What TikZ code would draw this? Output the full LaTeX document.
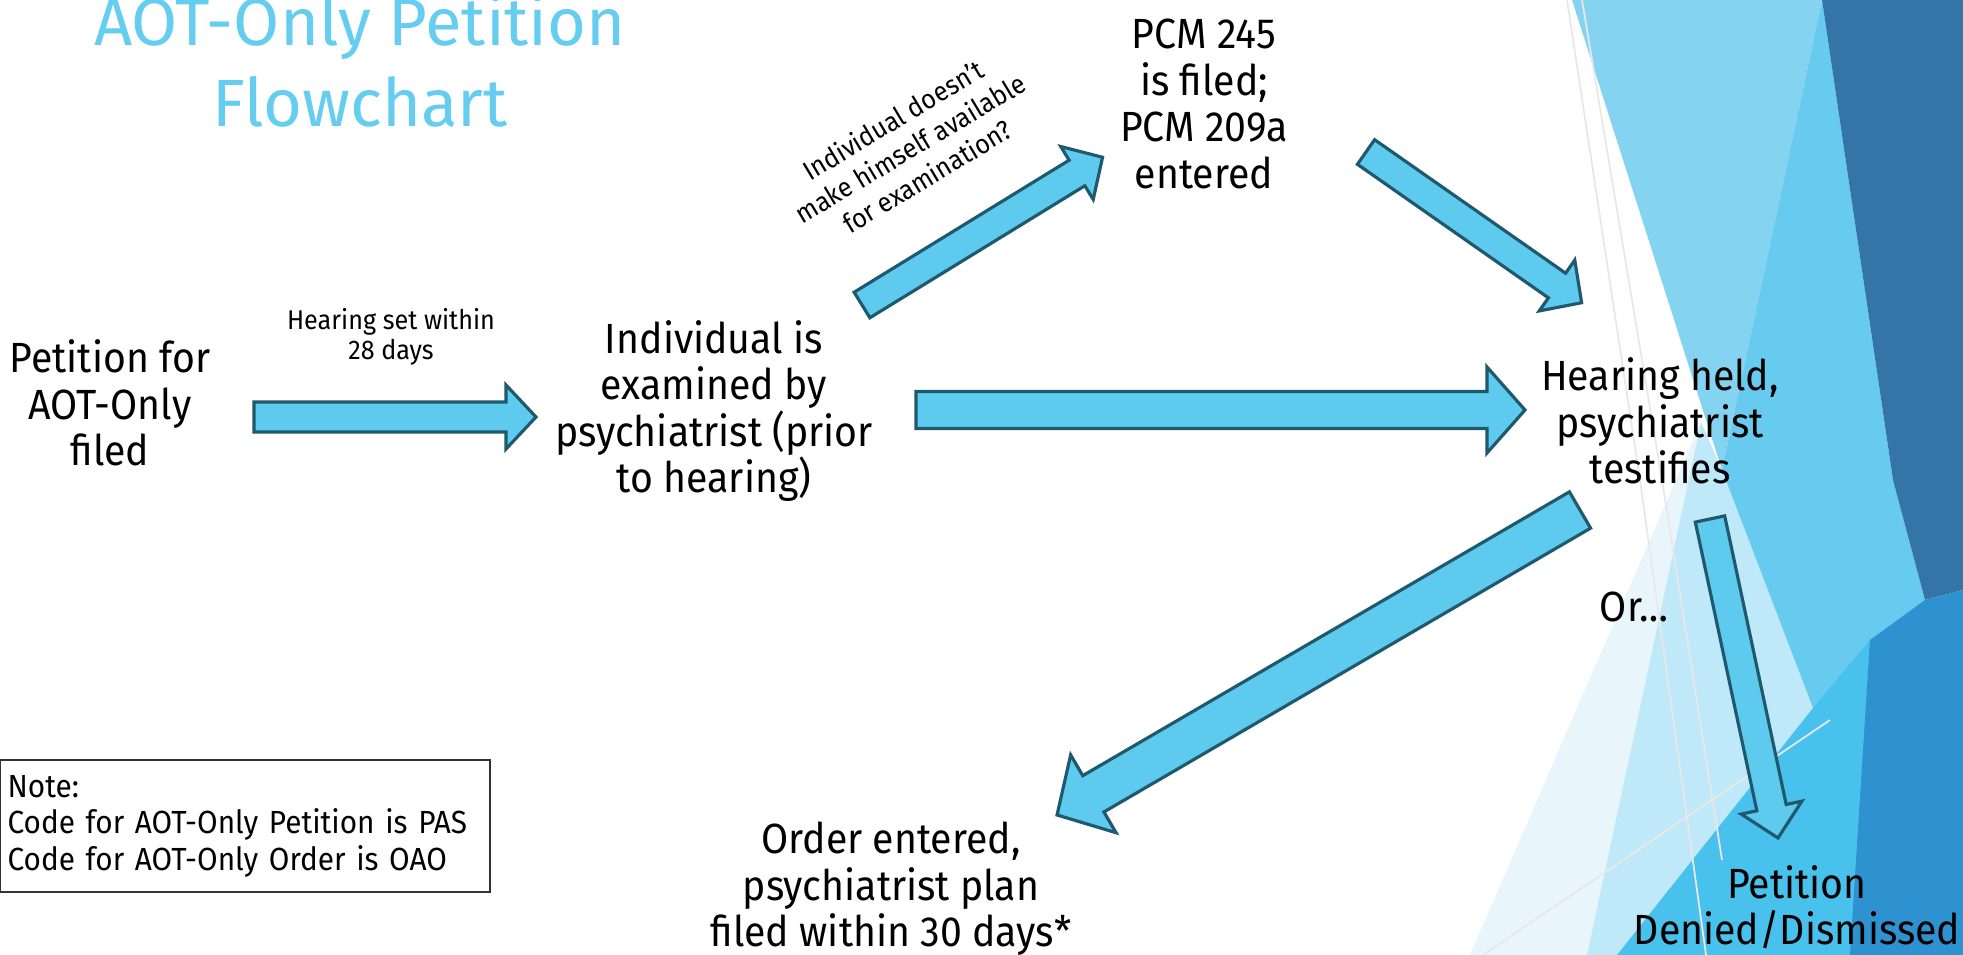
\documentclass[tikz,border=0pt]{standalone}
\usepackage{fontspec}
\setmainfont{Fira Sans}[FakeStretch=0.93]
\newfontfamily\titlefont{Fira Sans}

\definecolor{arrowfill}{RGB}{94,203,238}
\definecolor{arrowline}{RGB}{31,89,110}
\definecolor{titleblue}{RGB}{100,205,240}
\definecolor{facetfaint}{RGB}{232,246,252}
\definecolor{facetpale}{RGB}{191,233,248}
\definecolor{facetlight}{RGB}{132,211,240}
\definecolor{facetmid}{RGB}{102,203,238}
\definecolor{facetcyan}{RGB}{72,193,236}
\definecolor{facetdark}{RGB}{53,116,166}
\definecolor{facetblue}{RGB}{47,146,208}

\tikzset{%
	blockarrow/.style={fill=arrowfill, draw=arrowline, line width=0.9pt, line join=miter},
	stepnode/.style={align=center, inner sep=0pt, font=\fontsize{12}{13.2}\selectfont},
	sidenote/.style={align=center, inner sep=0pt, font=\fontsize{7.7}{8.4}\selectfont},
	notebox/.style={draw=black!80, line width=0.5pt, align=left, anchor=north west,
		text width=135pt, inner xsep=2.2pt, inner ysep=3.5pt, minimum height=37.6pt,
		font=\fontsize{9.1}{10.4}\selectfont},
	facetline/.style={draw=white!82!gray, line width=0.5pt},
}

\begin{document}
\begin{tikzpicture}[x=0.01cm,y=-0.01cm]

% one px of the slide
\def\px{0.28453pt}

%\blockarrow{tail}{tip}{shaft}{head}{headlen}, sizes in px
\newcommand*{\blockarrow}[5]{%
	\pgfpointdiff{\pgfpointanchor{#1}{center}}{\pgfpointanchor{#2}{center}}%
	\pgfgetlastxy{\bax}{\bay}%
	\pgfmathsetmacro{\balen}{veclen(\bax,\bay)}%
	\pgfmathsetmacro{\baang}{atan2(\bay,\bax)}%
	\draw [blockarrow, shift={(#1)}, rotate=\baang]
		(0pt,{#3*\px}) -- ({\balen pt-#5*\px},{#3*\px}) -- ({\balen pt-#5*\px},{#4*\px})
		-- (\balen pt,0pt) -- ({\balen pt-#5*\px},{-#4*\px}) -- ({\balen pt-#5*\px},{-#3*\px})
		-- (0pt,{-#3*\px}) -- cycle;
}

\useasboundingbox (0,0) rectangle (1963,955);
\fill [white] (0,0) rectangle (1963,955);

% facet background on the right
\fill [facetfaint] (1701,422) -- (1587,955) -- (1470,955) -- cycle;
\fill [facetpale] (1701,422) -- (1722,470) -- (1813,708) -- (1617,955) -- (1587,955) -- cycle;
\fill [facetlight] (1572,0) -- (1822,0) -- (1722,470) -- cycle;
\fill [facetmid] (1822,0) -- (1893,480) -- (1925,600) -- (1813,708) -- (1722,470) -- cycle;
\fill [facetcyan] (1617,955) -- (1813,708) -- (1870,640) -- (1963,590) -- (1963,955) -- cycle;
\fill [facetdark] (1822,0) -- (1963,0) -- (1963,590) -- (1925,600) -- (1893,480) -- cycle;
\fill [facetblue] (1870,640) -- (1925,600) -- (1963,590) -- (1963,955) -- (1850,955) -- cycle;
\draw [facetline] (1567,0) -- (1640,480) -- (1706,955);
\draw [facetline] (1582,0) -- (1662,480) -- (1722,860);
\draw [facetline] (1483,955) -- (1830,720);

% title
\node [font=\titlefont\fontsize{19}{23}\selectfont, text=titleblue, align=center, inner sep=0pt]
	(title) at (360,60) {AOT-Only Petition\\Flowchart};

% steps
\node [stepnode] (petition) at (110,403) {Petition for\\AOT-Only\\filed};
\node [stepnode] (exam) at (714,411) {Individual is\\examined by\\psychiatrist (prior\\to hearing)};
\node [stepnode] (pcm) at (1204,104) {PCM 245\\is filed;\\PCM 209a\\entered};
\node [stepnode] (hearing) at (1660,421) {Hearing held,\\psychiatrist\\testifies};
\node [stepnode] (order) at (891,889) {Order entered,\\psychiatrist plan\\filed within 30 days*};
\node [stepnode] (denied) at (1797,907) {Petition\\Denied/Dismissed};
\node [stepnode] (orlabel) at (1634,607) {Or…};

% arrow labels
\node [sidenote] (setlabel) at (391,337) {Hearing set within\\28 days};
\node [sidenote, font=\fontsize{7.7}{9.4}\selectfont, rotate=31] (nolabel) at (910,148)
	{Individual doesn’t\\make himself available\\for examination?};

% note
\node [notebox] (note) at (-1,759) {Note:\\Code for AOT-Only Petition is PAS\\Code for AOT-Only Order is OAO};

% arrows
\coordinate (a1s) at (254,417);
\coordinate (a1e) at (536,417);
\coordinate (a2s) at (916,410);
\coordinate (a2e) at (1525,410);
\coordinate (a3s) at (862,305);
\coordinate (a3e) at (1103,157);
\coordinate (a4s) at (1366,152);
\coordinate (a4e) at (1582,303);
\coordinate (a5s) at (1580,510);
\coordinate (a5e) at (1057,815);
\coordinate (a6s) at (1710,519);
\coordinate (a6e) at (1778,838);

\blockarrow{a1s}{a1e}{15}{32}{30}
\blockarrow{a2s}{a2e}{18.5}{43}{38}
\blockarrow{a3s}{a3e}{15}{31}{30}
\blockarrow{a4s}{a4e}{15}{31}{30}
\blockarrow{a5s}{a5e}{21}{45}{42}
\blockarrow{a6s}{a6e}{15}{31}{31}

\end{tikzpicture}
\end{document}
